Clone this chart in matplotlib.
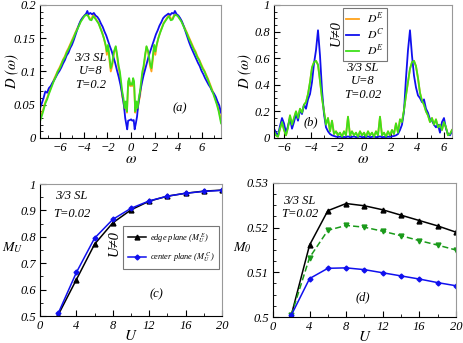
import numpy as np
import matplotlib as mpl
mpl.use('Agg')
import matplotlib.pyplot as plt
from matplotlib.ticker import MultipleLocator

# ---- panel (a): T=0.2 ----
w_a_c = [-7.7, -7.55, -7.4, -7.25, -7.1, -6.95, -6.8, -6.65, -6.5, -6.35, -6.2, -6.05,
         -5.9, -5.75, -5.6, -5.45, -5.3, -5.15, -5.0, -4.85, -4.7, -4.55, -4.4, -4.25,
         -4.1, -3.95, -3.8, -3.7, -3.6, -3.45, -3.3, -3.15, -3.0, -2.85, -2.7, -2.55,
         -2.4, -2.25, -2.1, -1.95, -1.8, -1.65, -1.5, -1.35, -1.2, -1.05, -0.9, -0.75,
         -0.6, -0.5, -0.4, -0.33, -0.25, -0.1, 0.0, 0.1, 0.22, 0.3, 0.4, 0.5, 0.6, 0.75,
         0.9, 1.05, 1.2, 1.35, 1.5, 1.65, 1.8, 1.95, 2.1, 2.25, 2.4, 2.55, 2.7, 2.85,
         3.0, 3.15, 3.3, 3.45, 3.6, 3.7, 3.85, 4.0, 4.15, 4.3, 4.45, 4.6, 4.75, 4.9,
         5.05, 5.2, 5.35, 5.5, 5.65, 5.8, 5.95, 6.1, 6.25, 6.4, 6.55, 6.7, 6.85, 7.0,
         7.15, 7.3, 7.45, 7.6]
d_a_c = [0.045, 0.052, 0.060, 0.070, 0.068, 0.075, 0.078, 0.083, 0.087, 0.092, 0.097, 0.101,
         0.106, 0.112, 0.117, 0.124, 0.128, 0.135, 0.140, 0.147, 0.155, 0.163, 0.171, 0.177,
         0.181, 0.184, 0.187, 0.191, 0.186, 0.188, 0.186, 0.188, 0.184, 0.182, 0.178, 0.172,
         0.167, 0.160, 0.154, 0.146, 0.138, 0.131, 0.122, 0.113, 0.102, 0.092, 0.080, 0.066,
         0.048, 0.030, 0.020, 0.013, 0.026, 0.027, 0.028, 0.026, 0.027, 0.013, 0.022, 0.032,
         0.050, 0.068, 0.082, 0.094, 0.104, 0.114, 0.124, 0.132, 0.140, 0.148, 0.156, 0.162,
         0.169, 0.174, 0.180, 0.183, 0.185, 0.187, 0.185, 0.188, 0.187, 0.191, 0.186, 0.184,
         0.180, 0.175, 0.168, 0.160, 0.152, 0.144, 0.137, 0.131, 0.125, 0.119, 0.113, 0.108,
         0.101, 0.096, 0.090, 0.085, 0.080, 0.076, 0.070, 0.067, 0.062, 0.055, 0.049, 0.038]

w_a_e = [-7.7, -7.55, -7.4, -7.25, -7.1, -6.95, -6.8, -6.65, -6.5, -6.35, -6.2, -6.05,
         -5.9, -5.75, -5.6, -5.45, -5.3, -5.15, -5.0, -4.85, -4.7, -4.55, -4.4, -4.25,
         -4.1, -3.95, -3.8, -3.65, -3.5, -3.35, -3.2, -3.05, -2.9, -2.75, -2.6, -2.45,
         -2.3, -2.15, -2.05, -1.95, -1.85, -1.72, -1.6, -1.45, -1.3, -1.18, -1.05, -0.95,
         -0.85, -0.75, -0.65, -0.55, -0.45, -0.35, -0.25, -0.17, -0.08, 0.0, 0.08, 0.17,
         0.25, 0.35, 0.45, 0.55, 0.65, 0.75, 0.85, 0.95, 1.05, 1.18, 1.3, 1.45, 1.6,
         1.72, 1.85, 1.95, 2.05, 2.15, 2.3, 2.45, 2.6, 2.75, 2.9, 3.05, 3.2, 3.35, 3.5,
         3.65, 3.8, 3.95, 4.1, 4.25, 4.4, 4.55, 4.7, 4.85, 5.0, 5.15, 5.3, 5.45, 5.6,
         5.75, 5.9, 6.05, 6.2, 6.35, 6.5, 6.65, 6.8, 6.95, 7.1, 7.25, 7.4, 7.6]
d_a_e = [0.025, 0.033, 0.042, 0.052, 0.058, 0.066, 0.073, 0.080, 0.087, 0.093, 0.100, 0.104,
         0.110, 0.117, 0.121, 0.128, 0.133, 0.139, 0.145, 0.151, 0.158, 0.163, 0.169, 0.175,
         0.179, 0.183, 0.185, 0.184, 0.178, 0.177, 0.183, 0.180, 0.176, 0.172, 0.165, 0.158,
         0.150, 0.140, 0.130, 0.140, 0.125, 0.105, 0.112, 0.130, 0.138, 0.125, 0.108, 0.100,
         0.085, 0.070, 0.060, 0.045, 0.055, 0.040, 0.085, 0.090, 0.080, 0.082, 0.080, 0.090,
         0.085, 0.040, 0.055, 0.045, 0.060, 0.070, 0.085, 0.100, 0.108, 0.125, 0.138, 0.130,
         0.112, 0.105, 0.125, 0.140, 0.130, 0.140, 0.150, 0.158, 0.165, 0.172, 0.176, 0.180,
         0.183, 0.177, 0.178, 0.184, 0.185, 0.183, 0.179, 0.175, 0.169, 0.163, 0.158, 0.151,
         0.145, 0.139, 0.133, 0.128, 0.121, 0.117, 0.110, 0.104, 0.100, 0.093, 0.087, 0.080,
         0.073, 0.066, 0.058, 0.050, 0.040, 0.022]
# U=0 edge curve, mostly hidden below the green one
d_a_0 = [0.030, 0.037, 0.045, 0.054, 0.060, 0.068, 0.075, 0.082, 0.089, 0.095, 0.101, 0.106,
         0.112, 0.118, 0.123, 0.130, 0.135, 0.141, 0.147, 0.153, 0.159, 0.165, 0.170, 0.176,
         0.180, 0.184, 0.186, 0.185, 0.180, 0.179, 0.186, 0.181, 0.177, 0.173, 0.166, 0.159,
         0.150, 0.138, 0.125, 0.138, 0.120, 0.100, 0.108, 0.128, 0.137, 0.122, 0.104, 0.095,
         0.078, 0.062, 0.055, 0.042, 0.050, 0.038, 0.082, 0.088, 0.078, 0.080, 0.078, 0.088,
         0.082, 0.038, 0.050, 0.042, 0.055, 0.062, 0.078, 0.095, 0.104, 0.122, 0.137, 0.128,
         0.108, 0.100, 0.120, 0.138, 0.125, 0.138, 0.150, 0.159, 0.166, 0.173, 0.177, 0.181,
         0.186, 0.179, 0.180, 0.185, 0.186, 0.184, 0.180, 0.176, 0.170, 0.165, 0.159, 0.153,
         0.147, 0.141, 0.135, 0.130, 0.123, 0.118, 0.112, 0.106, 0.101, 0.095, 0.089, 0.082,
         0.075, 0.068, 0.060, 0.052, 0.043, 0.026]

# ---- panel (b): T=0.02 ----
w_b = [-6.75, -6.6, -6.45, -6.3, -6.15, -6.0, -5.85, -5.7, -5.55, -5.4, -5.25, -5.1,
       -4.95, -4.8, -4.65, -4.5, -4.35, -4.2, -4.05, -3.9, -3.75, -3.6, -3.45, -3.3,
       -3.15, -3.0, -2.85, -2.7, -2.55, -2.4, -2.25, -2.1, -1.95, -1.8, -1.65, -1.5,
       -1.35, -1.2, -1.05, -0.9, -0.75, -0.6, -0.45, -0.3, -0.15, 0.0, 0.15, 0.3,
       0.45, 0.6, 0.75, 0.9, 1.05, 1.2, 1.35, 1.5, 1.65, 1.8, 1.95, 2.1,
       2.25, 2.4, 2.55, 2.7, 2.85, 3.0, 3.15, 3.3, 3.45, 3.6, 3.75, 3.9,
       4.05, 4.2, 4.35, 4.5, 4.65, 4.8, 4.95, 5.1, 5.25, 5.4, 5.55, 5.7,
       5.85, 6.0, 6.15, 6.3, 6.45, 6.6]
d_b_c = [0.07, 0.04, 0.02, 0.09, 0.15, 0.11, 0.04, 0.09, 0.15, 0.07, 0.12, 0.18,
         0.13, 0.21, 0.18, 0.25, 0.22, 0.29, 0.33, 0.42, 0.56, 0.66, 0.81, 0.62,
         0.36, 0.18, 0.08, 0.05, 0.03, 0.02, 0.015, 0.01, 0.008, 0.01, 0.006, 0.008,
         0.006, 0.012, 0.006, 0.008, 0.012, 0.006, 0.008, 0.012, 0.006, 0.008, 0.006, 0.012,
         0.006, 0.008, 0.012, 0.006, 0.008, 0.012, 0.006, 0.008, 0.006, 0.01, 0.008, 0.012,
         0.015, 0.02, 0.03, 0.06, 0.10, 0.20, 0.45, 0.66, 0.81, 0.62, 0.47, 0.38,
         0.32, 0.30, 0.27, 0.29, 0.22, 0.19, 0.14, 0.13, 0.10, 0.08, 0.10, 0.04,
         0.12, 0.15, 0.07, 0.03, 0.02, 0.05]
d_b_e = [0.05, 0.02, 0.01, 0.07, 0.12, 0.06, 0.02, 0.08, 0.17, 0.10, 0.15, 0.20,
         0.15, 0.22, 0.19, 0.25, 0.27, 0.33, 0.42, 0.53, 0.57, 0.58, 0.55, 0.43,
         0.30, 0.20, 0.10, 0.15, 0.05, 0.13, 0.03, 0.05, 0.02, 0.04, 0.01, 0.05,
         0.02, 0.16, 0.02, 0.05, 0.02, 0.04, 0.01, 0.05, 0.02, 0.04, 0.01, 0.05,
         0.02, 0.04, 0.01, 0.05, 0.02, 0.16, 0.02, 0.04, 0.01, 0.05, 0.02, 0.06,
         0.03, 0.11, 0.04, 0.14, 0.12, 0.21, 0.32, 0.42, 0.52, 0.57, 0.58, 0.54,
         0.45, 0.34, 0.28, 0.25, 0.20, 0.17, 0.12, 0.15, 0.10, 0.14, 0.08, 0.10,
         0.06, 0.12, 0.08, 0.02, 0.03, 0.06]

# ---- panels (c), (d) ----
U = [2, 4, 6, 8, 10, 12, 14, 16, 18, 20]
mu_edge = [0.504, 0.638, 0.772, 0.853, 0.902, 0.935, 0.954, 0.965, 0.973, 0.977]
mu_center = [0.510, 0.665, 0.795, 0.866, 0.908, 0.936, 0.954, 0.965, 0.972, 0.976]
m0_edge = [0.5004, 0.5161, 0.5238, 0.5254, 0.5249, 0.5240, 0.5228, 0.5216, 0.5204, 0.5190]
m0_mid = [0.5004, 0.5133, 0.5194, 0.5205, 0.5201, 0.5192, 0.5182, 0.5171, 0.5161, 0.5150]
m0_center = [0.5004, 0.5086, 0.5109, 0.5110, 0.5106, 0.5099, 0.5092, 0.5085, 0.5077, 0.5070]

plt.rcParams['font.family'] = ['Liberation Serif', 'DejaVu Serif']
plt.rcParams['font.style'] = 'italic'
plt.rcParams['mathtext.fontset'] = 'stix'
plt.rcParams['font.size'] = 9

BLUE = '#1010ee'
GREEN = '#3ee01a'
ORANGE = '#ffa31a'
TXT = 9

fig = plt.figure(figsize=(4.63, 3.43), dpi=100)
ax_a = fig.add_axes([0.0864, 0.5977, 0.391, 0.3878])
ax_b = fig.add_axes([0.5918, 0.5977, 0.3844, 0.3878])
ax_c = fig.add_axes([0.0864, 0.0787, 0.393, 0.3848])
ax_d = fig.add_axes([0.5896, 0.0758, 0.395, 0.3907])


def style(ax):
    ax.tick_params(which='both', direction='in', top=False, right=False)
    ax.tick_params(which='major', length=4, width=0.8, pad=3)
    ax.tick_params(which='minor', length=2, width=0.6)
    for s in ['top', 'right']:
        ax.spines[s].set_color('#999999')


# (a)
ax_a.plot(w_a_e, d_a_0, color=ORANGE, lw=1.3)
ax_a.plot(w_a_c, d_a_c, color=BLUE, lw=1.3)
ax_a.plot(w_a_e, d_a_e, color=GREEN, lw=1.3)
ax_a.set_xlim(-7.7, 7.6)
ax_a.set_ylim(0, 0.2)
ax_a.xaxis.set_minor_locator(MultipleLocator(1))
ax_a.yaxis.set_minor_locator(MultipleLocator(0.01))
ax_a.set_xticks([-6, -4, -2, 0, 2, 4, 6])
ax_a.set_yticks([0, 0.05, 0.1, 0.15, 0.2])
ax_a.set_yticklabels(['0', '0.05', '0.1', '0.15', '0.2'])
ax_a.set_xlabel(r'$\mathrm{\omega}$', fontsize=11, va='center')
ax_a.set_ylabel(r'$D\ (\mathrm{\omega})$', fontsize=10.5, va='center')
ax_a.xaxis.set_label_coords(0.5, -0.165)
ax_a.yaxis.set_label_coords(-0.155, 0.5)
ax_a.text(0.28, 0.5, '3/3 SL\nU=8\nT=0.2', transform=ax_a.transAxes, ha='center',
          va='center', fontsize=TXT, linespacing=1.15)
ax_a.text(0.77, 0.225, '(a)', transform=ax_a.transAxes, ha='center', va='center',
          fontsize=TXT)
style(ax_a)

# (b)
l1, = ax_b.plot(w_b, d_b_e, color=ORANGE, lw=1.3)
l2, = ax_b.plot(w_b, d_b_c, color=BLUE, lw=1.3)
l3, = ax_b.plot(w_b, d_b_e, color=GREEN, lw=1.3)
ax_b.set_xlim(-6.75, 6.6)
ax_b.set_ylim(0, 1)
ax_b.set_xticks([-6, -4, -2, 0, 2, 4, 6])
ax_b.xaxis.set_minor_locator(MultipleLocator(1))
ax_b.set_yticks([0, 0.2, 0.4, 0.6, 0.8, 1.0])
ax_b.set_yticklabels(['0', '0.2', '0.4', '0.6', '0.8', '1'])
ax_b.yaxis.set_minor_locator(MultipleLocator(0.05))
ax_b.set_xlabel(r'$\mathrm{\omega}$', fontsize=11, va='center')
ax_b.set_ylabel(r'$D\ (\mathrm{\omega})$', fontsize=10.5, va='center')
ax_b.xaxis.set_label_coords(0.5, -0.165)
ax_b.yaxis.set_label_coords(-0.163, 0.5)
leg = ax_b.legend([l1, l2, l3], [r'$D^E$', r'$D^C$', r'$D^E$'], loc='upper left',
                  bbox_to_anchor=(0.386, 0.975), fontsize=8.5, handlelength=1.1,
                  handletextpad=0.7, labelspacing=0.08, borderpad=0.25, borderaxespad=0,
                  fancybox=False, framealpha=1, edgecolor='#777777')
leg.get_frame().set_linewidth(0.8)
ax_b.text(0.352, 0.79, 'U\u22600', transform=ax_b.transAxes, rotation=90,
          ha='center', va='center', fontsize=10.5)
ax_b.text(0.497, 0.425, '3/3 SL\nU=8\nT=0.02', transform=ax_b.transAxes, ha='center',
          va='center', fontsize=TXT, linespacing=1.15)
ax_b.text(0.208, 0.12, '(b)', transform=ax_b.transAxes, ha='center', va='center',
          fontsize=TXT)
style(ax_b)

# (c)
le, = ax_c.plot(U, mu_edge, color='k', lw=1.1, marker='^', ms=3.5)
lc, = ax_c.plot(U, mu_center, color=BLUE, lw=1.1, marker='D', ms=2.5)
ax_c.set_xlim(0, 20)
ax_c.set_ylim(0.5, 1)
ax_c.set_xticks([0, 4, 8, 12, 16, 20])
ax_c.xaxis.set_minor_locator(MultipleLocator(2))
ax_c.set_yticks([0.5, 0.6, 0.7, 0.8, 0.9, 1.0])
ax_c.set_yticklabels(['0.5', '0.6', '0.7', '0.8', '0.9', '1'])
ax_c.yaxis.set_minor_locator(MultipleLocator(0.05))
ax_c.set_xlabel(r'$U$', fontsize=11, va='center')
ax_c.set_ylabel(r'$M_U$', rotation=0, fontsize=10, ha='center', va='center')
ax_c.xaxis.set_label_coords(0.5, -0.155)
ax_c.yaxis.set_label_coords(-0.15, 0.515)
leg = ax_c.legend([le, lc], [r'edge plane ($M_U^{\ E}$)', r'center plane ($M_U^{\ C}$)'],
                  loc='upper left', bbox_to_anchor=(0.458, 0.68), fontsize=6,
                  handlelength=2.2, handletextpad=0.4, labelspacing=0.7, borderpad=0.55,
                  borderaxespad=0, fancybox=False, framealpha=1, edgecolor='#777777')
leg.get_frame().set_linewidth(0.8)
ax_c.text(0.405, 0.555, 'U\u22600', transform=ax_c.transAxes, rotation=90,
          ha='center', va='center', fontsize=10.5)
ax_c.text(0.174, 0.91, '3/3 SL', transform=ax_c.transAxes, ha='center', va='center',
          fontsize=TXT)
ax_c.text(0.174, 0.77, 'T=0.02', transform=ax_c.transAxes, ha='center', va='center',
          fontsize=TXT)
ax_c.text(0.64, 0.164, '(c)', transform=ax_c.transAxes, ha='center', va='center',
          fontsize=TXT)
style(ax_c)

# (d)
ax_d.plot(U, m0_edge, color='k', lw=1.1, marker='^', ms=3.5)
ax_d.plot(U, m0_mid, color='#1a9a1a', lw=1.1, ls='--', dashes=(4, 2), marker='v', ms=3.5)
ax_d.plot(U, m0_center, color=BLUE, lw=1.1, marker='D', ms=2.5)
ax_d.set_xlim(0, 20)
ax_d.set_ylim(0.5, 0.53)
ax_d.set_xticks([0, 4, 8, 12, 16, 20])
ax_d.xaxis.set_minor_locator(MultipleLocator(2))
ax_d.set_yticks([0.5, 0.51, 0.52, 0.53])
ax_d.set_yticklabels(['0.5', '0.51', '0.52', '0.53'])
ax_d.yaxis.set_minor_locator(MultipleLocator(0.0025))
ax_d.set_xlabel(r'$U$', fontsize=11, va='center')
ax_d.set_ylabel(r'$M_0$', rotation=0, fontsize=10, ha='center', va='center')
ax_d.xaxis.set_label_coords(0.5, -0.15)
ax_d.yaxis.set_label_coords(-0.17, 0.515)
ax_d.text(0.144, 0.866, '3/3 SL', transform=ax_d.transAxes, ha='center', va='center',
          fontsize=TXT)
ax_d.text(0.144, 0.766, 'T=0.02', transform=ax_d.transAxes, ha='center', va='center',
          fontsize=TXT)
ax_d.text(0.49, 0.144, '(d)', transform=ax_d.transAxes, ha='center', va='center',
          fontsize=TXT)
style(ax_d)

# make sure the tick labels come out italic, like the rest of the text
fig.canvas.draw()
for ax in [ax_a, ax_b, ax_c, ax_d]:
    for lab in ax.get_xticklabels() + ax.get_yticklabels():
        lab.set_fontstyle('italic')

fig.savefig('out.png', dpi=100)
